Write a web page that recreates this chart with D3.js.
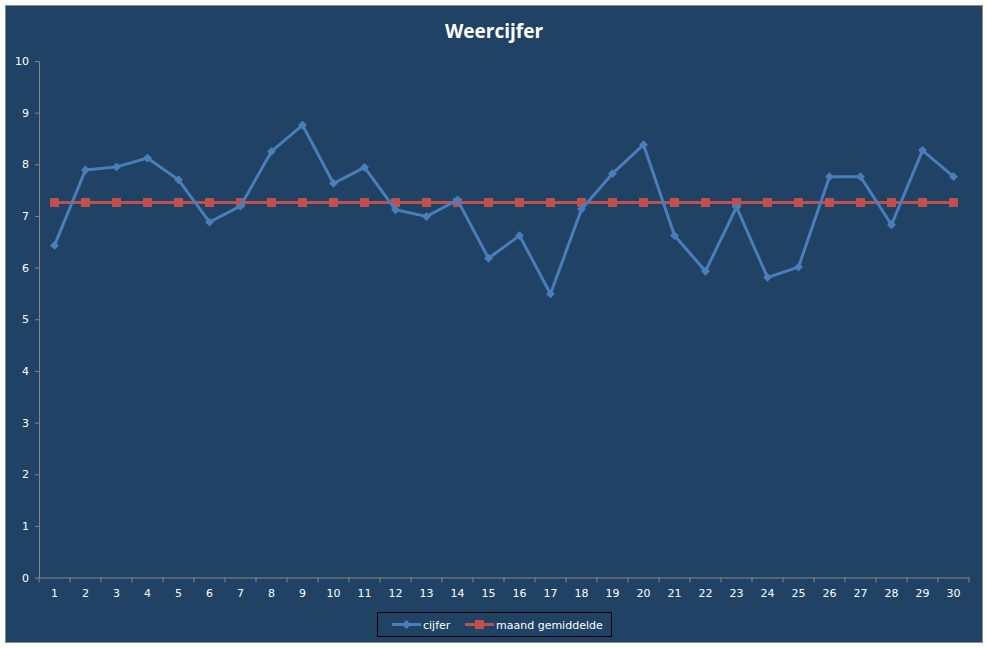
<!DOCTYPE html>
<html>
<head>
<meta charset="utf-8">
<script src="https://cdn.jsdelivr.net/npm/d3@7"></script>
<style>
  body { margin: 0; background: #ffffff; }
  svg { display: block; }
  .tick text { fill: #ffffff; font-family: "DejaVu Sans", sans-serif; font-size: 11px; }
  .axis path, .axis line { stroke: #868686; }
</style>
</head>
<body>
<svg id="chart" width="987" height="648"></svg>
<script>
// days of the month
const days = d3.range(1, 31).map(String);
// daily weather score
const cijfer = [6.43, 7.89, 7.95, 8.12, 7.70, 6.88, 7.19, 8.25, 8.76, 7.63,
                7.94, 7.12, 6.99, 7.31, 6.18, 6.62, 5.49, 7.13, 7.82, 8.38,
                6.62, 5.93, 7.17, 5.81, 6.01, 7.76, 7.76, 6.83, 8.27, 7.76];
// monthly average
const gemiddelde = [7.26, 7.26, 7.26, 7.26, 7.26, 7.26, 7.26, 7.26, 7.26, 7.26,
                    7.26, 7.26, 7.26, 7.26, 7.26, 7.26, 7.26, 7.26, 7.26, 7.26,
                    7.26, 7.26, 7.26, 7.26, 7.26, 7.26, 7.26, 7.26, 7.26, 7.26];
const yTicks = [0, 1, 2, 3, 4, 5, 6, 7, 8, 9, 10];

const svg = d3.select('#chart');
const margin = {top: 61, left: 39, right: 18, bottom: 70};
const dim = {w: 987 - margin.left - margin.right, h: 648 - margin.top - margin.bottom};
const blue = '#4a7ebb', red = '#c0504d';

// chart area with border
svg.append('rect')
  .attr('x', 5.5).attr('y', 5.5).attr('width', 977).attr('height', 637)
  .attr('fill', '#1f4265').attr('stroke', '#8c8c8c');

svg.append('text')
  .attr('x', 494).attr('y', 38)
  .attr('text-anchor', 'middle')
  .attr('fill', '#ffffff')
  .style('font-family', '"Open Sans", sans-serif')
  .style('font-weight', 'bold')
  .style('font-size', '19px')
  .text('Weercijfer');

const x = d3.scaleBand().domain(days).range([0, 930]);
const y = d3.scaleLinear().domain([0, 10]).range([516.5, 0]);

const g = svg.append('g').attr('transform', `translate(${margin.left}, ${margin.top})`);

// x axis with ticks between categories
const xAxis = g.append('g').attr('class', 'axis')
  .attr('transform', `translate(0, ${y(0)})`)
  .call(d3.axisBottom(x).tickSize(0).tickPadding(12));
xAxis.selectAll('.bound').data(d3.range(31)).enter().append('line')
  .attr('class', 'bound')
  .attr('x1', (d) => d * x.step()).attr('x2', (d) => d * x.step())
  .attr('y1', 0).attr('y2', 5)
  .attr('stroke', '#868686');

g.append('g').attr('class', 'axis')
  .call(d3.axisLeft(y).tickValues(yTicks).tickSize(4).tickPadding(6).tickSizeOuter(0));

const cx = (d, i) => x(days[i]) + x.bandwidth() / 2;

const line = d3.line().x(cx).y((d) => y(d));

g.append('path').datum(gemiddelde)
  .attr('d', line).attr('fill', 'none')
  .attr('stroke', red).attr('stroke-width', 3);
g.selectAll('.sq').data(gemiddelde).enter().append('rect')
  .attr('class', 'sq')
  .attr('x', (d, i) => cx(d, i) - 4.5).attr('y', (d) => y(d) - 4.5)
  .attr('width', 9).attr('height', 9)
  .attr('fill', red);

g.append('path').datum(cijfer)
  .attr('d', line).attr('fill', 'none')
  .attr('stroke', blue).attr('stroke-width', 3);
g.selectAll('.dia').data(cijfer).enter().append('path')
  .attr('class', 'dia')
  .attr('d', d3.symbol(d3.symbolDiamond2, 50))
  .attr('transform', (d, i) => `translate(${cx(d, i)}, ${y(d)})`)
  .attr('fill', blue);

// legend
const lg = svg.append('g').attr('transform', 'translate(377, 612)');
lg.append('rect').attr('x', 0.5).attr('y', 0.5).attr('width', 234).attr('height', 24)
  .attr('fill', 'none').attr('stroke', '#000000');
const items = [
  {name: 'cijfer', color: blue, x: 15, mark: 'diamond'},
  {name: 'maand gemiddelde', color: red, x: 88, mark: 'square'}
];
items.forEach((it) => {
  lg.append('line').attr('x1', it.x).attr('x2', it.x + 29).attr('y1', 12.5).attr('y2', 12.5)
    .attr('stroke', it.color).attr('stroke-width', 3);
  if (it.mark === 'square') {
    lg.append('rect').attr('x', it.x + 10).attr('y', 8).attr('width', 9).attr('height', 9).attr('fill', it.color);
  } else {
    lg.append('path').attr('d', d3.symbol(d3.symbolDiamond2, 50))
      .attr('transform', `translate(${it.x + 14.5}, 12.5)`).attr('fill', it.color);
  }
  lg.append('text').attr('x', it.x + 31).attr('y', 16.5)
    .attr('fill', '#ffffff')
    .style('font-family', '"DejaVu Sans", sans-serif').style('font-size', '11px')
    .text(it.name);
});
</script>
</body>
</html>
